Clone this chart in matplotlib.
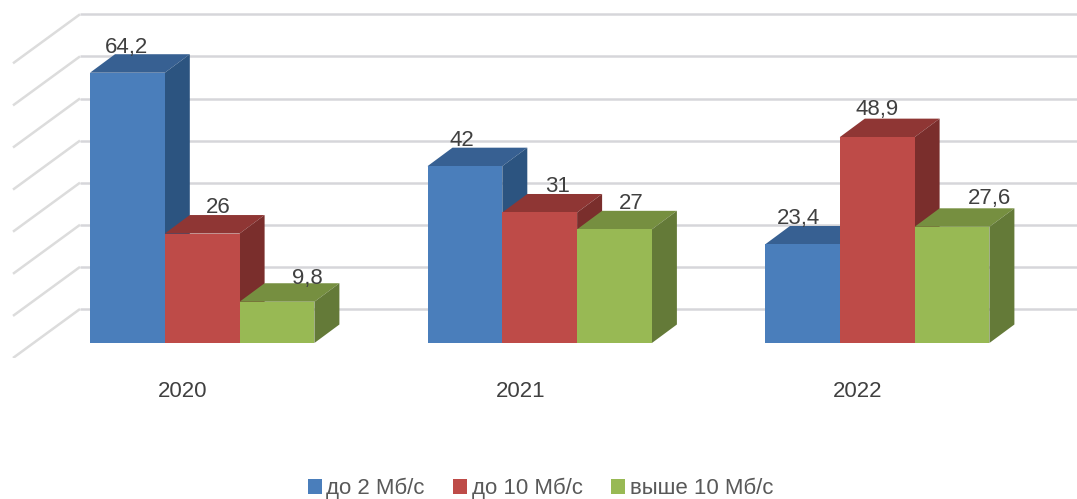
import matplotlib
matplotlib.use("Agg")
import matplotlib.pyplot as plt
from matplotlib.patches import Polygon, Patch

years = ["2020", "2021", "2022"]
series_names = ["до 2 Мб/с", "до 10 Мб/с", "выше 10 Мб/с"]
up_to_2 = [64.2, 42, 23.4]
up_to_10 = [26, 31, 48.9]
above_10 = [9.8, 27, 27.6]
grid_values = [0, 10, 20, 30, 40, 50, 60, 70]

W, H = 1077, 499
PX_X = 337.5          # pixels per category
PX_Y = 4.21           # pixels per value unit
X0_PX, Y0_PX = 202.2, 343
BOTTOM_PX = 358
BAR_W = 74.8 / PX_X
DX, DY = 25 / PX_X, 18.5 / PX_Y
WALL_X0, WALL_X1 = (13 - X0_PX) / PX_X, (80 - X0_PX) / PX_X
WALL_DY = 34 / PX_Y   # rear wall floor above the front bar baseline
WALL_FRONT = -15 / PX_Y

colors = [("#4a7ebb", "#376092", "#2c5480"),
          ("#be4b48", "#8f3634", "#7a2e2c"),
          ("#98b954", "#768f40", "#647a38")]
# per-label pixel offsets (x from bar centre, y above bar top)
label_dx = [[-1, 16, 30], [-3, 18, 17], [-4, 0, 38]]
label_dy = [[25, 26, 23], [26, 26, 26], [26, 28, 28]]

plt.rcParams["font.family"] = ["Liberation Sans", "DejaVu Sans"]
FS = 16

fig = plt.figure(figsize=(W / 100, H / 100), dpi=100)
ax = fig.add_axes([0, (H - BOTTOM_PX) / H, 1, BOTTOM_PX / H])
ax.set_xlim(-X0_PX / PX_X, (W - X0_PX) / PX_X)
ax.set_ylim((Y0_PX - BOTTOM_PX) / PX_Y, Y0_PX / PX_Y)
for s in ax.spines.values():
    s.set_visible(False)

for v in grid_values:
    y_back = v + WALL_DY
    ax.plot([WALL_X0, WALL_X1], [v + WALL_FRONT, y_back], color="#dcdcdc", lw=1.8, zorder=1, solid_capstyle="butt")
    ax.plot([WALL_X1, ax.get_xlim()[1]], [y_back, y_back], color="#d6d6da", lw=1.8, zorder=1, solid_capstyle="butt")

all_series = [up_to_2, up_to_10, above_10]
z = 2
for i, year in enumerate(years):
    for j, vals in enumerate(all_series):
        v = vals[i]
        x0 = i + (j - 1.5) * BAR_W
        x1 = x0 + BAR_W
        front, top, side = colors[j]
        ax.add_patch(Polygon([(x0, v), (x0 + DX, v + DY), (x1 + DX, v + DY), (x1, v)],
                             fc=top, ec="none", zorder=z))
        ax.add_patch(Polygon([(x1, 0), (x1 + DX, DY), (x1 + DX, v + DY), (x1, v)],
                             fc=side, ec="none", zorder=z))
        ax.bar(x0 + BAR_W / 2, v, width=BAR_W, color=front, edgecolor="none", zorder=z + 0.5)
        z += 1

for i in range(len(years)):
    for j, vals in enumerate(all_series):
        v = vals[i]
        xc = i + (j - 1) * BAR_W
        ax.annotate(str(v).replace(".", ","), (xc, v),
                    xytext=(label_dx[i][j] * 0.72, label_dy[i][j] * 0.72),
                    textcoords="offset points", ha="center", va="center",
                    fontsize=FS, color="#404040", zorder=50)

ax.set_yticks([])
ax.set_xticks([i - 19.5 / PX_X for i in range(len(years))], years)
ax.tick_params(axis="x", length=0, pad=16.5, labelsize=FS, labelcolor="#404040")

handles = [Patch(fc=colors[k][0], ec="none", label=series_names[k]) for k in range(3)]
fig.legend(handles=handles, ncol=3, loc="center", bbox_to_anchor=(540.5 / W, (H - 488.5) / H),
           frameon=False, fontsize=FS, labelcolor="#595959", handlelength=0.63, handleheight=0.63,
           handletextpad=0.225, columnspacing=1.26, borderpad=0, borderaxespad=0)

fig.savefig("out.png", dpi=100)
